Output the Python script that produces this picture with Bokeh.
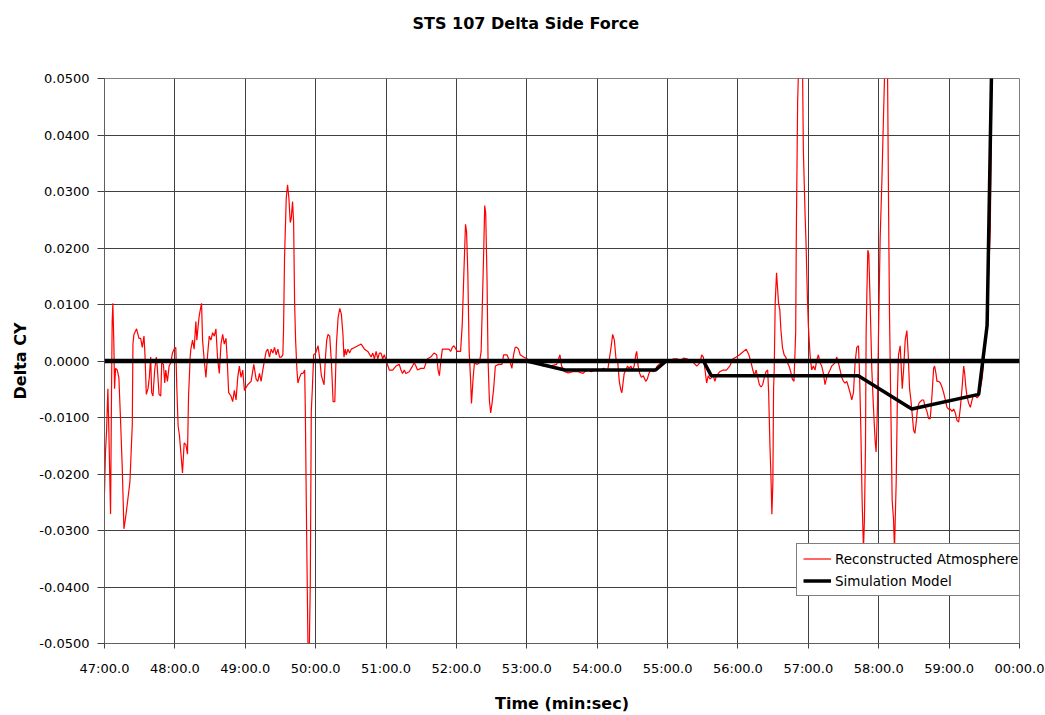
from bokeh.plotting import figure
from bokeh.models import FixedTicker, NumeralTickFormatter, Span, Legend, LegendItem, Range1d
from bokeh.embed import file_html
from bokeh.resources import INLINE

# ---------------- data ----------------
title_text = "STS 107 Delta Side Force"
x_label = "Time (min:sec)"
y_label = "Delta CY"

x_ticks = [47, 48, 49, 50, 51, 52, 53, 54, 55, 56, 57, 58, 59, 60]
x_tick_labels = ["47:00.0", "48:00.0", "49:00.0", "50:00.0", "51:00.0", "52:00.0", "53:00.0",
                 "54:00.0", "55:00.0", "56:00.0", "57:00.0", "58:00.0", "59:00.0", "00:00.0"]
y_ticks = [-0.05, -0.04, -0.03, -0.02, -0.01, 0.0, 0.01, 0.02, 0.03, 0.04, 0.05]

series_names = ["Reconstructed Atmosphere", "Simulation Model"]

# Reconstructed atmosphere (time in minutes, delta CY)
atm_time = [
    47.000, 47.014, 47.029, 47.048, 47.062, 47.086, 47.100, 47.109, 47.119, 47.133,
    47.143, 47.157, 47.181, 47.204, 47.228, 47.252, 47.276, 47.300, 47.323, 47.361,
    47.395, 47.404, 47.418, 47.456, 47.490, 47.514, 47.537, 47.561, 47.575, 47.594,
    47.618, 47.637, 47.656, 47.670, 47.689, 47.713, 47.737, 47.751, 47.775, 47.799,
    47.813, 47.837, 47.856, 47.870, 47.894, 47.918, 47.942, 47.965, 47.989, 48.013,
    48.027, 48.046, 48.065, 48.084, 48.108, 48.132, 48.156, 48.179, 48.194, 48.208,
    48.217, 48.227, 48.251, 48.274, 48.298, 48.312, 48.331, 48.346, 48.360, 48.379,
    48.393, 48.417, 48.441, 48.465, 48.488, 48.512, 48.536, 48.560, 48.583, 48.607,
    48.631, 48.655, 48.679, 48.702, 48.726, 48.740, 48.764, 48.797, 48.821, 48.845,
    48.869, 48.893, 48.916, 48.940, 48.964, 48.988, 49.035, 49.083, 49.121, 49.154,
    49.178, 49.202, 49.225, 49.249, 49.273, 49.297, 49.320, 49.344, 49.368, 49.392,
    49.416, 49.439, 49.463, 49.487, 49.511, 49.534, 49.544, 49.558, 49.582, 49.601,
    49.620, 49.639, 49.653, 49.672, 49.687, 49.701, 49.715, 49.734, 49.748, 49.772,
    49.796, 49.820, 49.844, 49.853, 49.872, 49.891, 49.910, 49.924, 49.938, 49.953,
    49.972, 50.000, 50.034, 50.058, 50.081, 50.105, 50.119, 50.138, 50.157, 50.176,
    50.200, 50.224, 50.248, 50.272, 50.295, 50.319, 50.343,
    50.365, 50.388, 50.402, 50.421, 50.435, 50.459, 50.482, 50.506, 50.553, 50.600,
    50.647, 50.694, 50.741, 50.788, 50.812, 50.835, 50.859, 50.882, 50.906, 50.929,
    50.953, 50.976, 51.000, 51.047, 51.094, 51.141, 51.188, 51.212, 51.235, 51.259,
    51.282, 51.329, 51.376, 51.400, 51.424, 51.447, 51.494, 51.541, 51.588, 51.635,
    51.682, 51.720, 51.739, 51.758, 51.776, 51.800, 51.847, 51.894, 51.918, 51.941,
    51.965, 52.012, 52.059, 52.082, 52.106, 52.129, 52.144, 52.162, 52.181, 52.200,
    52.214, 52.238, 52.256, 52.294, 52.327, 52.351, 52.369, 52.388, 52.402, 52.416,
    52.435, 52.449, 52.468, 52.487, 52.506, 52.529, 52.553, 52.600, 52.647, 52.671,
    52.718, 52.765, 52.788, 52.812, 52.835, 52.859, 52.882, 52.906, 52.953, 53.000,
    53.047, 53.141, 53.235, 53.329, 53.424, 53.471, 53.494,
    53.541, 53.588, 53.658, 53.728, 53.799, 53.822, 53.869, 53.916, 53.963, 54.009,
    54.056, 54.094, 54.126, 54.150, 54.173, 54.197, 54.220, 54.244, 54.267, 54.290,
    54.314, 54.337, 54.351, 54.370, 54.384, 54.407, 54.431, 54.454, 54.478, 54.501,
    54.525, 54.548, 54.562, 54.581, 54.604, 54.628, 54.656, 54.689, 54.712, 54.735,
    54.759, 54.796, 54.829, 54.852, 54.899, 54.946, 54.993, 55.040, 55.087, 55.133,
    55.180, 55.227, 55.274, 55.321, 55.368, 55.415, 55.461, 55.485, 55.508, 55.532,
    55.555, 55.578, 55.602, 55.625, 55.649, 55.672, 55.696, 55.742, 55.789, 55.836,
    55.883, 55.906, 55.930, 55.977, 56.023, 56.070, 56.117, 56.155, 56.187, 56.211,
    56.234, 56.258, 56.281, 56.304, 56.328, 56.351, 56.375, 56.398, 56.422, 56.436,
    56.454, 56.468, 56.482, 56.496, 56.506, 56.515, 56.529, 56.548, 56.562, 56.576,
    56.595, 56.609, 56.632, 56.656, 56.679, 56.703, 56.726, 56.749, 56.773, 56.796,
    56.820, 56.829, 56.848, 56.857, 56.875, 56.890, 56.905, 56.919, 56.929, 56.953,
    56.967, 56.986, 57.000, 57.024, 57.047, 57.071, 57.095, 57.119, 57.142, 57.166,
    57.190, 57.214, 57.237, 57.261, 57.285, 57.308, 57.332, 57.356, 57.380, 57.403,
    57.427, 57.451, 57.475, 57.498, 57.522, 57.546, 57.570, 57.593, 57.617, 57.641,
    57.664, 57.688, 57.712, 57.726, 57.745, 57.764, 57.783, 57.797, 57.812, 57.821,
    57.831, 57.845, 57.859, 57.878, 57.902, 57.925, 57.949, 57.963, 57.982, 57.997,
    58.020, 58.044, 58.068, 58.082, 58.100, 58.120, 58.139, 58.153, 58.172, 58.191,
    58.210, 58.224, 58.248, 58.267, 58.281, 58.305, 58.319, 58.334, 58.353, 58.376,
    58.400, 58.419, 58.438, 58.457, 58.476, 58.495, 58.514, 58.533, 58.552, 58.571,
    58.590, 58.614, 58.637, 58.661, 58.685, 58.709, 58.732, 58.756, 58.780, 58.794,
    58.813, 58.827, 58.851, 58.875, 58.898, 58.922, 58.946, 58.970, 58.993, 59.017,
    59.041, 59.065, 59.088, 59.112, 59.136, 59.160, 59.183, 59.207, 59.221, 59.240,
    59.254, 59.278, 59.302, 59.326, 59.349, 59.373, 59.397, 59.421, 59.470, 59.520,
    59.560, 59.585, 59.600, 59.610,
]
atm_value = [
    -0.0234, -0.0161, -0.0125, -0.0049, -0.0125, -0.0271, -0.0049, 0.0070, 0.0102, 0.0030,
    -0.0049, -0.0013, -0.0016, -0.0029, -0.0105, -0.0188, -0.0297, -0.0277, -0.0254, -0.0214,
    -0.0112, 0.0030, 0.0047, 0.0057, 0.0040, 0.0040, 0.0024, 0.0044, 0.0011, -0.0059,
    -0.0049, -0.0029, 0.0007, -0.0056, -0.0062, -0.0016, 0.0007, -0.0013, -0.0059, -0.0062,
    -0.0003, -0.0006, -0.0039, -0.0016, -0.0036, -0.0009, -0.0003, 0.0014, 0.0021, 0.0024,
    -0.0046, -0.0115, -0.0132, -0.0161, -0.0198, -0.0145, -0.0148, -0.0165, -0.0062, -0.0022,
    0.0007, 0.0021, 0.0037, 0.0021, 0.0070, 0.0037, 0.0063, 0.0080, 0.0090, 0.0102,
    0.0037, 0.0001, -0.0029, 0.0011, 0.0044, 0.0037, 0.0050, 0.0044, 0.0057, 0.0004,
    -0.0022, 0.0030, 0.0047, 0.0030, 0.0040, 0.0011, -0.0056, -0.0062, -0.0072, -0.0052,
    -0.0069, -0.0029, -0.0009, -0.0029, -0.0016, -0.0052, -0.0042, -0.0036, -0.0006, -0.0032,
    -0.0036, -0.0022, -0.0036, -0.0016, 0.0001, 0.0017, 0.0021, 0.0007, 0.0021, 0.0014,
    0.0024, 0.0011, 0.0021, 0.0007, 0.0007, 0.0011, 0.0057, 0.0183, 0.0288, 0.0312,
    0.0288, 0.0245, 0.0252, 0.0282, 0.0245, 0.0103, 0.0037, -0.0016, -0.0039, -0.0029,
    -0.0022, -0.0022, -0.0016, -0.0085, -0.0307, -0.0505, -0.0505, -0.0393, -0.0089, -0.0049,
    0.0011, 0.0014, 0.0027, 0.0004, -0.0026, -0.0036, -0.0042, 0.0004, 0.0037, 0.0047,
    0.0044, -0.0003, -0.0072, -0.0072, 0.0030, 0.0077, 0.0093,
    0.0083, 0.0047, 0.0007, 0.0021, 0.0011, 0.0021, 0.0014, 0.0021, 0.0024, 0.0027,
    0.0030, 0.0021, 0.0017, 0.0007, 0.0014, 0.0004, 0.0017, 0.0004, 0.0014, 0.0014,
    0.0004, 0.0011, 0.0001, -0.0016, -0.0016, -0.0009, -0.0006, -0.0016, -0.0022, -0.0016,
    -0.0022, -0.0019, -0.0009, -0.0003, -0.0009, -0.0016, -0.0013, -0.0013, 0.0004, 0.0007,
    0.0014, 0.0011, -0.0016, -0.0026, -0.0003, 0.0021, 0.0021, 0.0021, 0.0017, 0.0024,
    0.0027, 0.0017, 0.0017, 0.0063, 0.0156, 0.0242, 0.0229, 0.0156, 0.0017, -0.0029,
    -0.0075, -0.0029, -0.0003, -0.0006, -0.0003, 0.0017, 0.0103, 0.0196, 0.0275, 0.0262,
    0.0143, 0.0004, -0.0069, -0.0092, -0.0075, -0.0049, -0.0009, -0.0006, -0.0006, 0.0011,
    0.0011, -0.0003, -0.0013, 0.0011, 0.0024, 0.0024, 0.0021, 0.0011, 0.0007, 0.0004,
    0.0001, -0.0003, -0.0009, -0.0009, -0.0006, 0.0011, -0.0009,
    -0.0019, -0.0021, -0.0019, -0.0019, -0.0022, -0.0019, -0.0016, -0.0019, -0.0016, -0.0016,
    -0.0015, -0.0013, -0.0016, -0.0016, 0.0004, 0.0024, 0.0047, 0.0037, 0.0004, 0.0001,
    -0.0036, -0.0052, -0.0056, -0.0036, -0.0022, -0.0016, -0.0009, -0.0013, -0.0009, -0.0016,
    -0.0009, 0.0011, 0.0017, -0.0009, -0.0022, -0.0029, -0.0026, -0.0036, -0.0032, -0.0022,
    -0.0016, -0.0019, -0.0016, -0.0009, -0.0004, 0.0001, 0.0001, 0.0001, 0.0004, 0.0004,
    0.0001, 0.0005, 0.0004, 0.0001, -0.0003, -0.0009, -0.0003, 0.0011, 0.0007, -0.0016,
    -0.0039, -0.0026, -0.0032, -0.0029, -0.0026, -0.0036, -0.0026, -0.0019, -0.0016, -0.0016,
    -0.0009, -0.0003, 0.0004, 0.0007, 0.0011, 0.0016, 0.0021, 0.0011, -0.0003, -0.0016,
    -0.0026, -0.0016, -0.0029, -0.0042, -0.0046, -0.0042, -0.0029, -0.0019, -0.0016, -0.0056,
    -0.0148, -0.0201, -0.0271, -0.0214, -0.0049, -0.0016, 0.0103, 0.0156, 0.0130, 0.0103,
    0.0090, 0.0057, 0.0024, 0.0011, 0.0007, -0.0003, -0.0009, -0.0019, -0.0032, -0.0036,
    0.0050, 0.0222, 0.0460, 0.0500, 0.0600, 0.0650, 0.0550, 0.0500, 0.0374, 0.0262,
    0.0209, 0.0116, 0.0063, 0.0011, -0.0016, -0.0009, -0.0016, 0.0001, 0.0011, -0.0003,
    -0.0009, -0.0022, -0.0042, -0.0029, -0.0022, -0.0016, -0.0009, -0.0006, -0.0003, 0.0007,
    -0.0003, -0.0016, -0.0029, -0.0036, -0.0039, -0.0036, -0.0046, -0.0056, -0.0069, -0.0056,
    -0.0003, 0.0024, 0.0027, -0.0016, -0.0115, -0.0247, -0.0333, -0.0280, -0.0148, 0.0050,
    0.0116, 0.0196, 0.0189, 0.0103, -0.0016, -0.0082, -0.0142, -0.0161, -0.0082, 0.0050,
    0.0216, 0.0315, 0.0434, 0.0500, 0.0650, 0.0600, 0.0282, 0.0083, -0.0082, -0.0247,
    -0.0280, -0.0333, -0.0214, -0.0049, 0.0011, 0.0027, -0.0009, -0.0049, -0.0016, 0.0037,
    0.0054, 0.0011, -0.0049, -0.0069, -0.0095, -0.0122, -0.0128, -0.0108, -0.0082, -0.0075,
    -0.0072, -0.0069, -0.0069, -0.0082, -0.0089, -0.0102, -0.0102, -0.0062, -0.0013, -0.0009,
    -0.0022, -0.0036, -0.0036, -0.0039, -0.0046, -0.0056, -0.0069, -0.0082, -0.0085, -0.0085,
    -0.0089, -0.0085, -0.0092, -0.0105, -0.0108, -0.0082, -0.0049, -0.0009, -0.0022, -0.0049,
    -0.0062, -0.0075, -0.0082, -0.0069, -0.0059, -0.0062, -0.0065, -0.0062, -0.0030, 0.0040,
    0.0150, 0.0234, 0.0400, 0.0600,
]

# Simulation model
sim_time = [47.00, 53.00, 53.54, 54.83, 54.98, 55.51, 55.62, 57.71, 58.47, 59.42, 59.54, 59.615]
sim_value = [0.0, 0.0, -0.0016, -0.0016, 0.0, 0.0, -0.0026, -0.0026, -0.0085, -0.0059, 0.0063, 0.0600]

# ---------------- figure ----------------
FONT = "DejaVu Sans"

p = figure(width=1045, height=715, output_backend="svg", toolbar_location=None,
           x_range=Range1d(47, 60), y_range=Range1d(-0.05, 0.05),
           min_border_left=104, min_border_right=26, min_border_top=78, min_border_bottom=68,
           background_fill_color="white", border_fill_color="white")

# trailing blank lines lift the single visible title line towards the top edge
p.title.text = title_text + "\n\n"
p.title.align = "left"
p.title.text_font = FONT
p.title.text_font_size = "16px"
p.title.text_font_style = "bold"
p.title.text_color = "black"
p.title.offset = 308
p.title.standoff = 16

p.outline_line_color = "#808080"
p.outline_line_width = 1

p.xaxis.ticker = FixedTicker(ticks=x_ticks)
p.xaxis.major_label_overrides = {t: lab for t, lab in zip(x_ticks, x_tick_labels)}
p.yaxis.ticker = FixedTicker(ticks=y_ticks)
p.yaxis.formatter = NumeralTickFormatter(format="0.0000")

for ax in (p.xaxis[0], p.yaxis[0]):
    ax.major_label_text_font = FONT
    ax.major_label_text_font_size = "13px"
    ax.major_label_text_color = "black"
    ax.axis_line_color = "#606060"
    ax.major_tick_line_color = "#404040"
    ax.major_tick_in = 0
    ax.minor_tick_out = 0
    ax.minor_tick_in = 0
    ax.axis_label_text_font = FONT
    ax.axis_label_text_font_size = "16px"
    ax.axis_label_text_font_style = "bold"
    ax.axis_label_text_color = "black"

p.xaxis.major_tick_out = 5
p.xaxis.major_label_standoff = 12
p.xaxis.axis_label = x_label
p.xaxis.axis_label_standoff = 15
p.yaxis.major_tick_out = 7
p.yaxis.major_label_standoff = 8
p.yaxis.axis_label = y_label
p.yaxis.axis_label_standoff = 6

p.xgrid.grid_line_color = "#404040"
p.ygrid.grid_line_color = "#404040"
p.xgrid.grid_line_width = 1
p.ygrid.grid_line_width = 1

r_atm = p.line(atm_time, atm_value, line_color="#FF0000", line_width=1.2)
p.add_layout(Span(location=0, dimension="width", line_color="black", line_width=4.5))
r_sim = p.line(sim_time, sim_value, line_color="black", line_width=3.5)

legend = Legend(items=[LegendItem(label=series_names[0], renderers=[r_atm]),
                       LegendItem(label=series_names[1], renderers=[r_sim])],
                location=(692, 47), margin=0, padding=6, spacing=5,
                glyph_width=28, glyph_height=17, label_height=17, label_standoff=4,
                label_text_font=FONT, label_text_font_size="13.5px", label_text_color="black",
                border_line_color="black", border_line_width=1,
                background_fill_color="white", background_fill_alpha=1.0)
p.add_layout(legend)

open("out.html", "w").write(file_html(p, INLINE))
